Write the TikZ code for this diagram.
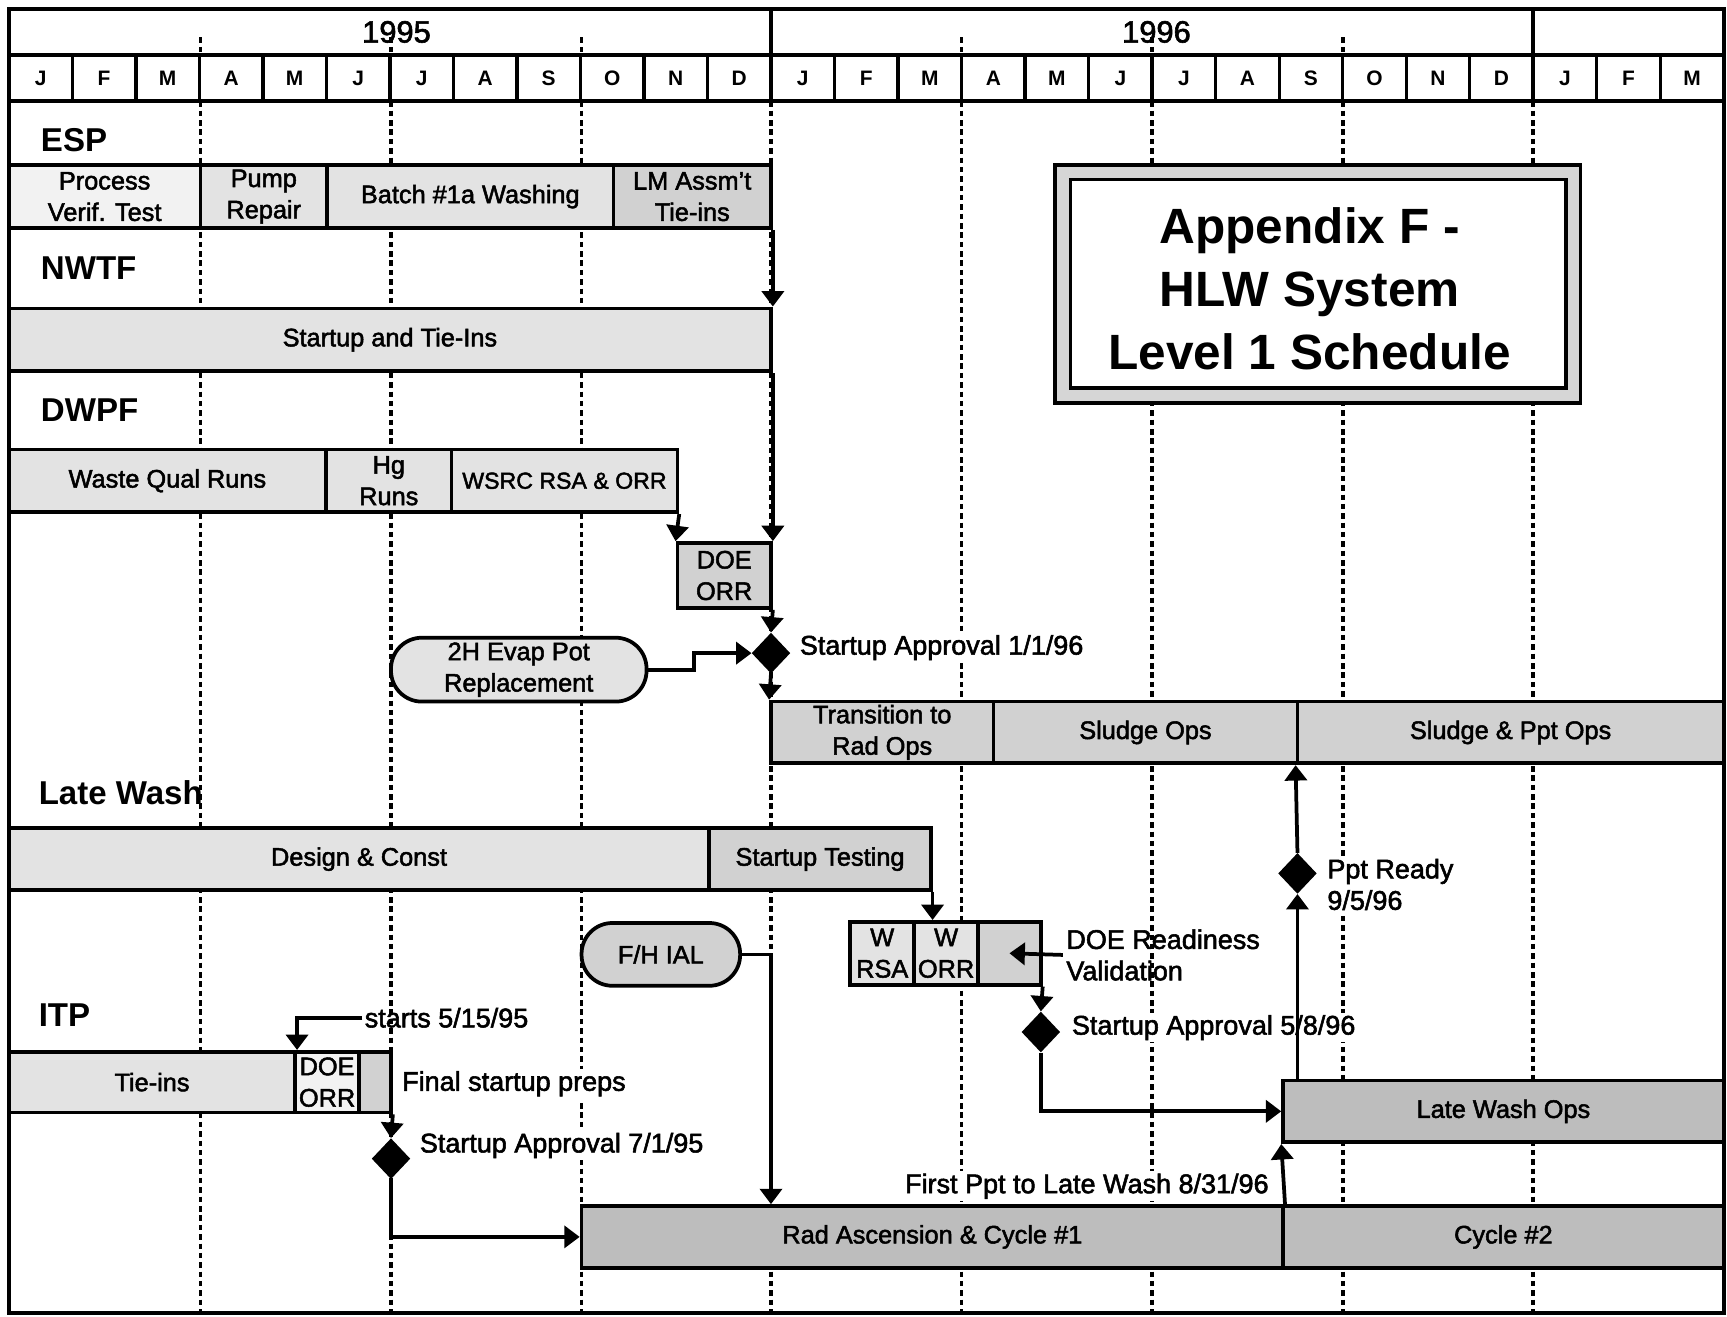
\documentclass[tikz,border=0pt]{standalone}
\usepackage{fontspec}
\setmainfont{Liberation Sans}[UprightFeatures={FakeBold=2}]
\usetikzlibrary{arrows.meta,shapes.geometric}
\newcommand{\ftxt}{\fontsize{23}{28.5}\selectfont}
\newcommand{\fann}{\fontsize{24.5}{28.5}\selectfont}
\newcommand{\fsec}{\fontsize{30}{34}\selectfont\bfseries}
\newcommand{\fmon}{\fontsize{19}{20}\selectfont\bfseries}
\newcommand{\fyear}{\fontsize{28}{32}\selectfont}
\newcommand{\fapp}{\fontsize{45}{57}\selectfont\bfseries}
\begin{document}
\begin{tikzpicture}[x=1pt,y=-1pt,
 bx/.style={draw,line width=3.4pt,inner sep=0pt,align=center,font=\ftxt},
 pill/.style={bx,rounded corners=28pt},
 dm/.style={diamond,fill=black,inner sep=0pt,minimum width=35pt,minimum height=37pt},
 arr/.style={line width=3.4pt,-{Triangle[length=14pt,width=20pt]}},
 dl/.style={line width=3.4pt,dash pattern=on 5pt off 3.5pt},
 lbl/.style={font=\fann,inner sep=2pt,align=left},
 sec/.style={font=\fsec,inner sep=0pt,anchor=west},
 c1/.style={fill=black!5}, c2/.style={fill=black!11}, c3/.style={fill=black!18}, c4/.style={fill=black!26}
]
\useasboundingbox (0,0) rectangle (1568,1195);
\fill[white] (0,0) rectangle (1568,1195);
% quarter lines
\foreach \x in {182,355,528,700,873,1046,1219,1392} \draw[dl] (\x,92) -- (\x,1192);
\foreach \x in {182,355,528,873,1046,1219} \draw[dl] (\x,34) -- (\x,50);
% header
\draw[line width=3.4pt] (8,8) rectangle (1565,1192);
\draw[line width=3.4pt] (8,50) -- (1565,50) (8,92) -- (1565,92);
\foreach \x in {700,1392} \draw[line width=3.4pt] (\x,8) -- (\x,92);
\foreach \i in {1,...,26} \draw[line width=3pt] ({8+57.67*\i},50) -- ({8+57.67*\i},92);
\node[font=\fyear] (y95) at (360,29) {1995};
\node[font=\fyear] (y96) at (1050,29) {1996};
\foreach \m [count=\i from 0] in {J,F,M,A,M,J,J,A,S,O,N,D,J,F,M,A,M,J,J,A,S,O,N,D,J,F,M}
  \node[font=\fmon] (m\i) at ({8+57.67*(\i+0.5)},71) {\m};
% section labels
\node[sec] (esp) at (37,127) {ESP};
\node[sec] (nwtf) at (37,243) {NWTF};
\node[sec] (dwpf) at (37,372) {DWPF};
\node[sec] (lw) at (35,720) {Late Wash};
\node[sec] (itp) at (35,922) {ITP};
% ESP
\node[bx,c1,minimum width=174pt,minimum height=57pt] (pvt) at (95,178.5) {Process\\Verif. Test};
\node[bx,c2,minimum width=115pt,minimum height=57pt] (pump) at (239.5,178.5) {Pump\\Repair};
\node[bx,c2,minimum width=260pt,minimum height=57pt] (batch) at (427,178.5) {Batch \#1a Washing};
\node[bx,c3,minimum width=143pt,minimum height=57pt] (lm) at (628.5,178.5) {LM Assm't\\Tie-ins};
% NWTF
\node[bx,c2,minimum width=692pt,minimum height=57pt] (sti) at (354,308.5) {Startup and Tie-Ins};
% DWPF
\node[bx,c2,minimum width=288pt,minimum height=57pt] (wqr) at (152,436.5) {Waste Qual Runs};
\node[bx,c2,minimum width=114pt,minimum height=57pt] (hg) at (353,436.5) {Hg\\Runs};
\node[bx,c2,minimum width=205pt,minimum height=57pt,font=\fontsize{21}{26}\selectfont] (wsrc) at (512.5,436.5) {WSRC RSA \& ORR};
\node[bx,c3,minimum width=85pt,minimum height=59pt] (doe) at (657.5,522.5) {DOE\\ORR};
\node[pill,c2,minimum width=232pt,minimum height=58pt] (evap) at (471,608) {2H Evap Pot\\Replacement};
\node[bx,c3,minimum width=202pt,minimum height=56pt] (trans) at (801,665) {Transition to\\Rad Ops};
\node[bx,c3,minimum width=276pt,minimum height=56pt] (sludge) at (1040,665) {Sludge Ops};
\node[bx,c3,minimum width=387pt,minimum height=56pt] (sppt) at (1371.5,665) {Sludge \& Ppt Ops};
% Late Wash
\node[bx,c2,minimum width=636pt,minimum height=56pt] (dc) at (326,780) {Design \& Const};
\node[bx,c3,minimum width=201pt,minimum height=56pt] (stt) at (744.5,780) {Startup Testing};
\node[bx,c2,minimum width=58pt,minimum height=57pt] (wrsa) at (801,865.5) {W\\RSA};
\node[bx,c2,minimum width=58pt,minimum height=57pt] (worr) at (859,865.5) {W\\ORR};
\node[bx,c3,minimum width=57pt,minimum height=57pt] (wx) at (916.5,865.5) {};
\node[pill,c3,minimum width=144pt,minimum height=57pt] (fh) at (600,866.5) {F/H IAL};
% ITP
\node[bx,c2,minimum width=260pt,minimum height=55pt] (tie) at (138,982.5) {Tie-ins};
\node[bx,c1,minimum width=58pt,minimum height=55pt] (idoe) at (297,982.5) {DOE\\ORR};
\node[bx,c3,minimum width=29pt,minimum height=55pt] (ix) at (340.5,982.5) {};
\node[bx,c4,minimum width=400pt,minimum height=56pt] (lwo) at (1365,1009) {Late Wash Ops};
\node[bx,c4,minimum width=637pt,minimum height=56pt] (rad) at (846.5,1123) {Rad Ascension \& Cycle \#1};
\node[bx,c4,minimum width=400pt,minimum height=56pt] (cyc) at (1365,1123) {Cycle \#2};
% Appendix box
\node[draw,line width=3.4pt,fill=black!16,minimum width=477pt,minimum height=216pt,inner sep=0pt] (appo) at (1196.5,258) {};
\node[draw,line width=3.4pt,fill=white,minimum width=450pt,minimum height=189pt,inner sep=0pt] (appi) at (1197,257.5) {};
\node[font=\fapp,align=center] (app) at (1189,262) {Appendix F -\\HLW System\\Level 1 Schedule};
% diamonds
\node[dm] (d1) at (700,593) {};
\node[dm] (d2) at (945,937) {};
\node[dm] (d3) at (1178,793) {};
\node[dm] (d4) at (355,1052) {};
% labels
\node[lbl,anchor=west,fill=white] (sa1) at (724,588) {Startup Approval 1/1/96};
\node[lbl,anchor=west,fill=white] (sa2) at (971,933) {Startup Approval 5/8/96};
\node[lbl,anchor=west,fill=white] (sa3) at (379,1040) {Startup Approval 7/1/95};
\node[lbl,anchor=west,fill=white] (fsp) at (363,984) {Final startup preps};
\node[lbl,anchor=west,fill=white] (ppt) at (1203,803) {Ppt Ready\\9/5/96};
\node[lbl,anchor=east,fill=white] (fp) at (1154,1077) {First Ppt to Late Wash 8/31/96};
\node[lbl,anchor=west,inner sep=3pt] (dr) at (965,867) {DOE Readiness\\Validation};
\node[lbl,anchor=west] (st) at (329,924) {starts 5/15/95};
% connectors
\draw[arr] (lm.south east) -- (sti.north east);
\draw[arr] (sti.south east) -- (doe.north east);
\draw[arr] (wsrc.south east) -- (doe.north west);
\draw[arr] (doe.south east) -- (d1.north);
\draw[arr] (d1.south) -- (trans.north west);
\coordinate (ej) at (630,608);
\draw[arr] (evap.east) -- (ej) |- (d1.west);
\draw[arr] (stt.south east) -- (stt.south east |- worr.north);
\draw[arr] (dr.west) -- (wx.center);
\draw[arr] (wx.south east) -- (d2.north);
\draw[arr] (d2.south) |- (lwo.west);
\draw[arr] (lwo.north -| d3.south) -- (d3.south);
\draw[arr] (d3.north) -- (sppt.south west);
\draw[arr] (rad.north east) -- (lwo.south west);
\draw[arr] (st.west) -| (tie.north east);
\draw[arr] (ix.south east) -- (d4.north);
\draw[arr] (d4.south) |- (rad.west);
\coordinate (fj) at (700,866.5);
\draw[arr] (fh.east) -- (fj) -- (fj |- rad.north);
\end{tikzpicture}
\end{document}
